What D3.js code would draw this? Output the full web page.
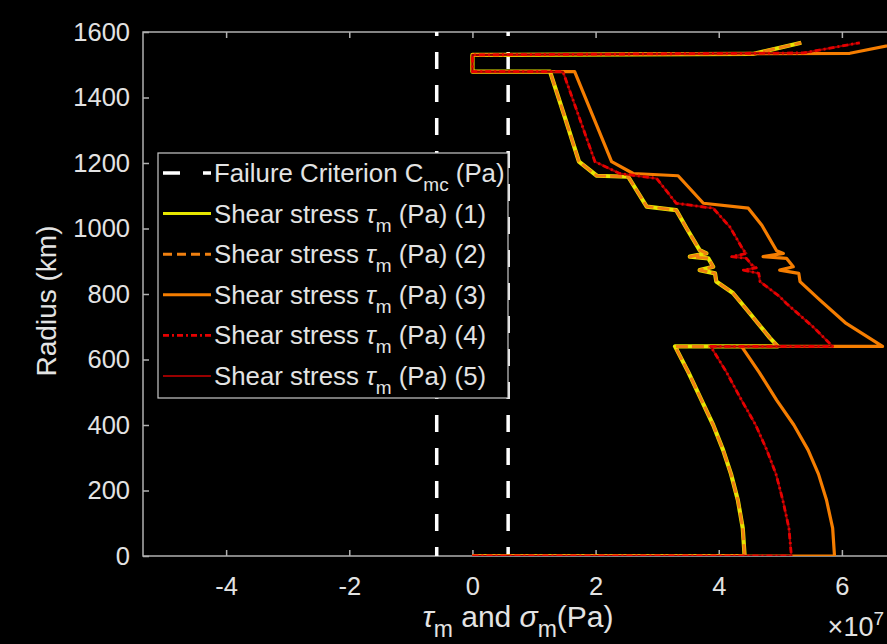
<!DOCTYPE html>
<html>
<head>
<meta charset="utf-8">
<script src="https://cdn.jsdelivr.net/npm/d3@7"></script>
<style>
  html, body { margin: 0; padding: 0; background: #000; }
  svg { display: block; font-family: 'Liberation Sans', Arial, sans-serif; }
</style>
</head>
<body>
<div id="chart"></div>
<script>
// stress values are in units of 1e7 Pa, radius in km
// profile shared by series 1 (yellow) and series 2 (dashed orange)
const profileA = [
  [0, 0], [4.42, 0], [4.39, 85], [4.31, 171], [4.2, 250], [4.07, 324],
  [3.91, 400], [3.72, 476], [3.51, 560], [3.29, 640], [4.96, 640],
  [4.83, 666], [4.5, 742], [4.23, 803], [3.96, 838], [3.94, 863],
  [3.69, 873], [3.91, 883], [3.83, 909], [3.53, 914], [3.8, 924],
  [3.69, 934], [3.48, 1000], [3.31, 1056], [2.83, 1067], [2.53, 1158],
  [2.02, 1161], [1.73, 1204], [1.5, 1340], [1.26, 1479], [0, 1479],
  [0, 1530], [4.55, 1533], [5.34, 1567],
]
// profile shared by series 4 (red dash-dot) and series 5 (dark red)
const profileB = [
  [0, 0], [5.18, 0], [5.14, 85], [5.04, 171], [4.93, 250], [4.78, 324],
  [4.6, 400], [4.37, 476], [4.13, 560], [3.87, 640], [5.85, 640],
  [5.53, 700], [5.1, 771], [4.99, 792], [4.67, 838], [4.65, 863],
  [4.4, 873], [4.61, 880], [4.53, 890], [4.45, 909], [4.21, 914],
  [4.45, 924], [4.4, 934], [4.18, 1005], [3.91, 1062], [3.31, 1077],
  [2.99, 1153], [2.39, 1168], [1.99, 1204], [1.47, 1479], [0, 1479],
  [0, 1530], [5.37, 1536], [6.29, 1567],
]
// series 3 (orange)
const profileC = [
  [0, 0], [5.88, 0], [5.85, 85], [5.75, 171], [5.62, 250], [5.45, 324],
  [5.22, 400], [4.94, 476], [4.66, 560], [4.37, 640], [6.66, 640],
  [6.07, 710], [5.64, 782], [5.32, 838], [5.3, 863], [4.99, 873],
  [5.21, 883], [5.1, 909], [4.72, 914], [5.05, 924], [4.94, 932],
  [4.7, 1010], [4.48, 1062], [3.75, 1077], [3.34, 1161], [2.61, 1168],
  [2.26, 1204], [1.66, 1479], [0, 1479], [0, 1530], [6.13, 1535],
  [7.2, 1575],
]

const criterionValues = [-0.58, 0.58]

const seriesNames = ['(1)', '(2)', '(3)', '(4)', '(5)']
const seriesProfiles = [profileA, profileA, profileC, profileB, profileB]
const seriesColors = ['#e6e600', '#f08010', '#f57d00', '#e60000', '#990000']
const seriesWidths = [4.2, 3, 3.2, 2.8, 2]
const seriesDash = [null, '12,4', null, '6,3,2,3', null]
const legendDash = [null, '9,5', null, '6,3,2,3', null]
const drawOrder = [0, 1, 2, 4, 3]

const xTicks = [-4, -2, 0, 2, 4, 6]
const yTicks = [0, 200, 400, 600, 800, 1000, 1200, 1400, 1600]
const xDomain = [-5.35, 6.83]
const yDomain = [0, 1600]

const axisColor = '#b0b0b0'
const textColor = '#e3e3e3'

renderChart()

function renderChart() {
  const width = 887
  const height = 644
  const margin = { left: 143, top: 32, right: -6, bottom: 88 }

  const svg = d3
    .select('#chart')
    .append('svg')
    .attr('width', width)
    .attr('height', height)
    .style('background', '#000')

  const xScale = d3
    .scaleLinear()
    .domain(xDomain)
    .range([margin.left, width - margin.right])
  const yScale = d3
    .scaleLinear()
    .domain(yDomain)
    .range([height - margin.bottom, margin.top])

  renderAxes({ svg, xScale, yScale })
  renderLines({ svg, xScale, yScale })
  renderLegend({ svg })
}

function renderAxes({ svg, xScale, yScale }) {
  const [x0, x1] = xScale.range()
  const [y0, y1] = yScale.range()

  svg
    .append('rect')
    .attr('x', x0)
    .attr('y', y1)
    .attr('width', x1 - x0)
    .attr('height', y0 - y1)
    .attr('fill', 'none')
    .attr('stroke', axisColor)
    .attr('stroke-width', 1.5)

  const styleAxis = g => {
    g.select('.domain').remove()
    g.selectAll('.tick line').attr('stroke', axisColor).attr('stroke-width', 1.5)
    g.selectAll('.tick text')
      .attr('fill', textColor)
      .attr('font-size', 25.5)
      .attr('font-family', "'Liberation Sans', Arial, sans-serif")
  }

  svg
    .append('g')
    .attr('transform', `translate(0, ${y0})`)
    .call(
      d3.axisBottom(xScale).tickValues(xTicks).tickSize(-6).tickPadding(21)
        .tickFormat(d => String(d)),
    )
    .call(styleAxis)

  svg
    .append('g')
    .attr('transform', `translate(0, ${y1})`)
    .call(d3.axisTop(xScale).tickValues(xTicks).tickSize(-6).tickFormat(''))
    .call(styleAxis)

  svg
    .append('g')
    .attr('transform', `translate(${x0}, 0)`)
    .call(
      d3.axisLeft(yScale).tickValues(yTicks).tickSize(-6).tickPadding(13)
        .tickFormat(d => String(d)),
    )
    .call(styleAxis)

  svg
    .append('g')
    .attr('transform', `translate(${x1}, 0)`)
    .call(d3.axisRight(yScale).tickValues(yTicks).tickSize(-6).tickFormat(''))
    .call(styleAxis)

  // axis labels
  svg
    .append('text')
    .attr('transform', `translate(56, ${(y0 + y1) / 2 + 7}) rotate(-90)`)
    .attr('text-anchor', 'middle')
    .attr('fill', textColor)
    .attr('font-size', 28)
    .text('Radius (km)')

  const xLabel = svg
    .append('text')
    .attr('x', 518)
    .attr('y', 627)
    .attr('text-anchor', 'middle')
    .attr('fill', textColor)
    .attr('font-size', 30)
  xLabel.append('tspan').attr('font-style', 'italic').text('τ')
  xLabel.append('tspan').attr('dy', 10).attr('font-size', 23).text('m')
  xLabel.append('tspan').attr('dy', -10).text(' and ')
  xLabel.append('tspan').attr('font-style', 'italic').text('σ')
  xLabel.append('tspan').attr('dy', 10).attr('font-size', 23).text('m')
  xLabel.append('tspan').attr('dy', -10).text('(Pa)')

  // exponent kept just inside the window so it is not cut off
  const expLabel = svg
    .append('text')
    .attr('x', 884)
    .attr('y', 636)
    .attr('text-anchor', 'end')
    .attr('fill', textColor)
    .attr('font-size', 27)
  expLabel.append('tspan').text('×10')
  expLabel.append('tspan').attr('dy', -11).attr('font-size', 19).text('7')
}

function renderLines({ svg, xScale, yScale }) {
  const [x0, x1] = xScale.range()
  const [y0, y1] = yScale.range()

  svg
    .append('clipPath')
    .attr('id', 'plot-clip')
    .append('rect')
    .attr('x', x0)
    .attr('y', y1)
    .attr('width', x1 - x0)
    .attr('height', y0 - y1)

  const plot = svg.append('g').attr('clip-path', 'url(#plot-clip)')

  plot
    .selectAll('line.criterion')
    .data(criterionValues)
    .join('line')
    .attr('class', 'criterion')
    .attr('x1', d => xScale(d))
    .attr('x2', d => xScale(d))
    .attr('y1', y0)
    .attr('y2', y1)
    .attr('stroke', '#fff')
    .attr('stroke-width', 3.5)
    .attr('stroke-dasharray', '17,16')
    .attr('stroke-dashoffset', 8)

  const line = d3
    .line()
    .x(d => xScale(d[0]))
    .y(d => yScale(d[1]))

  plot
    .selectAll('path.series')
    .data(drawOrder)
    .join('path')
    .attr('class', 'series')
    .attr('d', i => line(seriesProfiles[i]))
    .attr('fill', 'none')
    .attr('stroke', i => seriesColors[i])
    .attr('stroke-width', i => seriesWidths[i])
    .attr('stroke-dasharray', i => seriesDash[i])
    .attr('stroke-linejoin', 'round')
}

function renderLegend({ svg }) {
  const box = { x: 158, y: 153, w: 350, h: 245 }
  const rowY = 173
  const rowGap = 40.6

  const legend = svg.append('g').attr('class', 'legend')

  legend
    .append('rect')
    .attr('x', box.x)
    .attr('y', box.y)
    .attr('width', box.w)
    .attr('height', box.h)
    .attr('fill', '#000')
    .attr('stroke', '#c8c8c8')
    .attr('stroke-width', 1.2)

  // failure criterion entry
  legend
    .append('line')
    .attr('x1', 163)
    .attr('x2', 211)
    .attr('y1', rowY)
    .attr('y2', rowY)
    .attr('stroke', '#fff')
    .attr('stroke-width', 3.5)
    .attr('stroke-dasharray', '17,23')

  const first = legend
    .append('text')
    .attr('x', 214)
    .attr('y', rowY + 9)
    .attr('fill', textColor)
    .attr('font-size', 25.8)
  first.append('tspan').text('Failure Criterion C')
  first.append('tspan').attr('dy', 9).attr('font-size', 19).text('mc')
  first.append('tspan').attr('dy', -9).text(' (Pa)')

  const rows = legend
    .selectAll('g.row')
    .data(seriesNames)
    .join('g')
    .attr('class', 'row')
    .attr('transform', (d, i) => `translate(0, ${rowY + rowGap * (i + 1)})`)

  rows
    .append('line')
    .attr('x1', 163)
    .attr('x2', 211)
    .attr('stroke', (d, i) => seriesColors[i])
    .attr('stroke-width', (d, i) => Math.min(seriesWidths[i], 3))
    .attr('stroke-dasharray', (d, i) => legendDash[i])

  const label = rows
    .append('text')
    .attr('x', 214)
    .attr('y', 9)
    .attr('fill', textColor)
    .attr('font-size', 25.8)
  label.append('tspan').text('Shear stress ')
  label.append('tspan').attr('font-style', 'italic').text('τ')
  label.append('tspan').attr('dy', 9).attr('font-size', 19).text('m')
  label.append('tspan').attr('dy', -9).text(d => ` (Pa) ${d}`)
}
</script>
</body>
</html>
